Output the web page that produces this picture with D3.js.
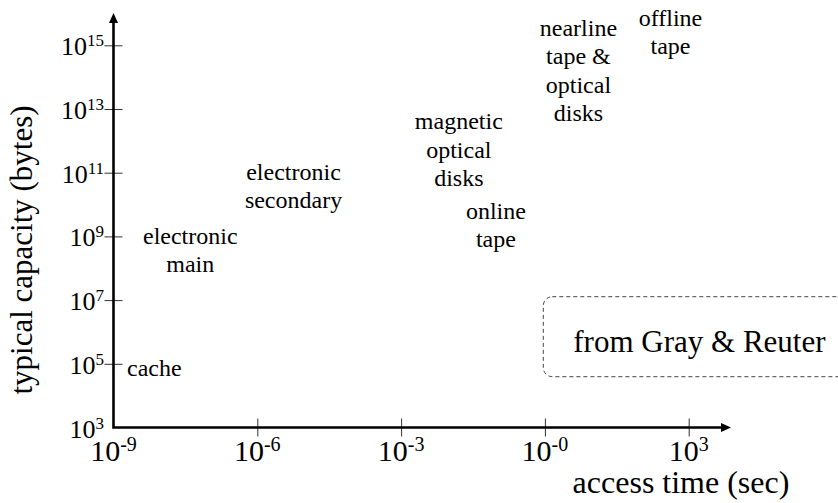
<!DOCTYPE html>
<html>
<head>
<meta charset="utf-8">
<script src="https://cdn.jsdelivr.net/npm/d3@7"></script>
<style>
  html, body { margin: 0; padding: 0; background: #fff; }
  svg { display: block; }
</style>
</head>
<body>
<svg id="chart" width="838" height="503"></svg>
<script>
// ---- data ----
const xTickValues = [1e-9, 1e-6, 1e-3, 1e0, 1e3];
const xTickSup = ["-9", "-6", "-3", "-0", "3"];
const yTickValues = [1e3, 1e5, 1e7, 1e9, 1e11, 1e13, 1e15];
const yTickSup = ["3", "5", "7", "9", "11", "13", "15"];

const storageNames = [
  ["cache"],
  ["electronic", "main"],
  ["electronic", "secondary"],
  ["magnetic", "optical", "disks"],
  ["online", "tape"],
  ["nearline", "tape &", "optical", "disks"],
  ["offline", "tape"]
];
const accessTimes = [7.1e-9, 4.0e-8, 5.7e-6, 0.016, 0.095, 5.0, 417];
const capacities  = [7.4e4, 3.8e8, 3.8e10, 5.2e11, 2.3e9, 1.6e14, 2.6e15];

const xTitle = "access time (sec)";
const yTitle = "typical capacity (bytes)";
const noteText = "from Gray & Reuter";

// ---- layout ----
const FONT = "'Liberation Serif', 'DejaVu Serif', 'Times New Roman', Times, serif";
const svg = d3.select("#chart").attr("font-family", FONT);
const x = d3.scaleLog().domain([1e-9, 1e3]).range([113.5, 688.7]);
const y = d3.scaleLog().domain([1e3, 1e15]).range([427.5, 45.3]);
const x0 = x.range()[0], y0 = y.range()[0];

// ticks via axis generators (ticks cross the axis line)
const xAxis = d3.axisBottom(x).tickValues(xTickValues.slice(1)).tickFormat("").tickSizeInner(9).tickSizeOuter(0);
const gx = svg.append("g").attr("transform", `translate(0,${y0})`).call(xAxis);
gx.select(".domain").remove();
gx.selectAll(".tick line").attr("y1", -9).attr("y2", 9).attr("stroke", "#333").attr("stroke-width", 1);

const yAxis = d3.axisLeft(y).tickValues(yTickValues.slice(1)).tickFormat("").tickSizeInner(9).tickSizeOuter(0);
const gy = svg.append("g").attr("transform", `translate(${x0},0)`).call(yAxis);
gy.select(".domain").remove();
gy.selectAll(".tick line").attr("x1", -9).attr("x2", 9).attr("stroke", "#333").attr("stroke-width", 1);

// axis lines with arrows
const xEnd = 721, yEnd = 23;
svg.append("path")
  .attr("d", `M${x0},${yEnd} V${y0} H${xEnd}`)
  .attr("fill", "none").attr("stroke", "#000").attr("stroke-width", 2.6)
  .attr("stroke-linejoin", "miter");
svg.append("path")
  .attr("d", `M${x0 - 4.5},${yEnd} L${x0},${yEnd - 10} L${x0 + 4.5},${yEnd} Z`)
  .attr("fill", "#000");
svg.append("path")
  .attr("d", `M${xEnd},${y0 - 4.5} L${xEnd + 10},${y0} L${xEnd},${y0 + 4.5} Z`)
  .attr("fill", "#000");

// x tick labels
xTickValues.forEach((v, i) => {
  const t = svg.append("text")
    .attr("x", x(v)).attr("y", 461)
    .attr("text-anchor", "middle")
    .attr("font-family", FONT)
    .attr("font-size", 30);
  t.append("tspan").text("10");
  t.append("tspan").attr("dy", -10).attr("font-size", 20).text(xTickSup[i]);
});

// y tick labels
yTickValues.forEach((v, i) => {
  const t = svg.append("text")
    .attr("x", 104).attr("y", y(v) + 10)
    .attr("text-anchor", "end")
    .attr("font-family", FONT)
    .attr("font-size", 26);
  t.append("tspan").text("10");
  t.append("tspan").attr("dy", -9).attr("font-size", 17).text(yTickSup[i]);
});

// axis titles
svg.append("text")
  .attr("x", 681).attr("y", 493)
  .attr("text-anchor", "middle")
  .attr("font-family", FONT)
  .attr("font-size", 32)
  .text(xTitle);
svg.append("text")
  .attr("transform", "translate(32,250) rotate(-90)")
  .attr("text-anchor", "middle")
  .attr("font-family", FONT)
  .attr("font-size", 31)
  .text(yTitle);

// storage labels
const lineH = 28.5;
storageNames.forEach((lines, i) => {
  const cx = x(accessTimes[i]);
  const cy = y(capacities[i]);
  const first = cy - (lines.length - 1) * lineH / 2 + 8;
  const t = svg.append("text")
    .attr("text-anchor", "middle")
    .attr("font-family", FONT)
    .attr("font-size", 24);
  lines.forEach((ln, j) => {
    t.append("tspan").attr("x", cx).attr("y", first + j * lineH).text(ln);
  });
});

// note box
svg.append("rect")
  .attr("x", 543.3).attr("y", 296.7)
  .attr("width", 330).attr("height", 80)
  .attr("rx", 9).attr("ry", 9)
  .attr("fill", "none").attr("stroke", "#444")
  .attr("stroke-width", 1).attr("stroke-dasharray", "4,3");
svg.append("text")
  .attr("x", 573.3).attr("y", 351.7)
  .attr("font-family", FONT)
  .attr("font-size", 31)
  .text(noteText);
</script>
</body>
</html>
